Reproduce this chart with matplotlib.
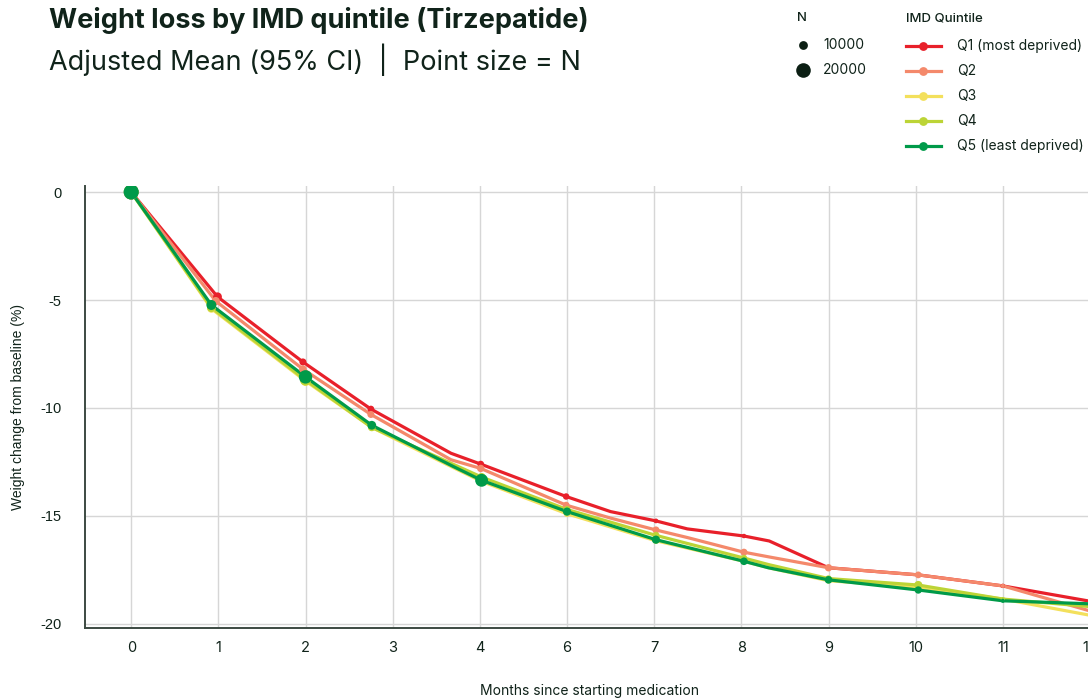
import numpy as np
import matplotlib
matplotlib.use("Agg")
import matplotlib.pyplot as plt

# x positions are slots on the axis (0..11), labels below
tick_labels = ["0", "1", "2", "3", "4", "6", "7", "8", "9", "10", "11", "12"]

q1_x = [0, 0.99, 1.97, 2.75, 3.67, 4.01, 4.99, 5.5, 6.02, 6.38, 7.03, 7.32, 8.0, 9.03, 10.0, 11.0]
q1_y = [0, -4.85, -7.87, -10.05, -12.1, -12.6, -14.1, -14.8, -15.23, -15.6, -15.93, -16.16, -17.4, -17.73, -18.24, -18.95]
q1_n = [20000, 10000, 7000, 6500, 0, 6500, 6000, 0, 3000, 0, 2500, 0, 2000, 2000, 2500, 0]

q2_x = [0, 0.97, 1.97, 2.75, 3.67, 4.01, 4.99, 5.5, 6.02, 6.38, 7.03, 7.32, 8.0, 9.03, 10.0, 11.0]
q2_y = [0, -5.05, -8.2, -10.3, -12.4, -12.8, -14.5, -15.1, -15.65, -16.0, -16.68, -16.9, -17.4, -17.73, -18.24, -19.4]
q2_n = [20000, 9000, 8000, 7000, 0, 7500, 6500, 0, 7000, 0, 7000, 0, 7500, 6500, 2000, 0]

q3_x = [0, 0.92, 2.0, 2.76, 3.69, 4.02, 5.0, 6.02, 7.03, 7.31, 8.0, 9.03, 10.0, 11.0]
q3_y = [0, -5.4, -8.75, -10.9, -12.75, -13.4, -14.9, -16.15, -17.1, -17.4, -18.0, -18.3, -18.85, -19.6]
q3_n = [20000, 9000, 12000, 7000, 0, 8000, 6000, 6000, 5000, 0, 5000, 6000, 1500, 0]

q4_x = [0, 0.92, 2.0, 2.76, 3.69, 4.02, 5.0, 6.02, 7.03, 7.31, 8.0, 9.03, 10.0, 11.0]
q4_y = [0, -5.35, -8.7, -10.9, -12.6, -13.2, -14.7, -15.9, -16.95, -17.25, -17.9, -18.2, -18.85, -19.2]
q4_n = [20000, 10000, 14000, 8000, 0, 9000, 7000, 7000, 6000, 0, 6000, 9000, 2000, 0]

q5_x = [0, 0.92, 2.0, 2.76, 3.69, 4.02, 5.0, 6.02, 7.03, 7.31, 8.0, 9.03, 10.0, 11.0]
q5_y = [0, -5.23, -8.56, -10.8, -12.7, -13.35, -14.8, -16.1, -17.1, -17.4, -17.96, -18.43, -18.93, -19.07]
q5_n = [21000, 12000, 18000, 10000, 0, 17000, 9000, 9000, 8000, 0, 8000, 7500, 2000, 0]

names = ["Q1 (most deprived)", "Q2", "Q3", "Q4", "Q5 (least deprived)"]
colors = ["#e8202a", "#f4896b", "#f3e05c", "#bcd436", "#009a49"]
series = [(q1_x, q1_y, q1_n), (q2_x, q2_y, q2_n), (q3_x, q3_y, q3_n),
          (q4_x, q4_y, q4_n), (q5_x, q5_y, q5_n)]

legend_n = [10000, 20000]

ink = "#10231a"
plt.rcParams['font.family'] = ['Inter', 'DejaVu Sans']


def msize(n):
    # diameter in px grows with N, returned as scatter area in pt^2
    n = np.asarray(n, dtype=float)
    d = (3.0 + 5.8e-4 * n) * 0.72
    return np.where(n > 0, d ** 2, 0)


fig = plt.figure(figsize=(10.88, 7.0), dpi=100)
ax = fig.add_axes([85 / 1088, 72 / 700, (1090 - 85) / 1088, 442 / 700])

for (x, y, n), c in zip(series, colors):
    ax.plot(x, y, color=c, lw=2.3, solid_joinstyle='round', zorder=3)
    ax.scatter(x, y, s=msize(n), color=c, zorder=4, linewidths=0)

ax.set_xlim(-0.53, 11.0)
ax.set_ylim(-20.19, 0.28)
ax.set_xticks(range(len(tick_labels)))
ax.set_xticklabels(tick_labels)
ax.set_yticks([0, -5, -10, -15, -20])
ax.set_yticklabels(["0", "-5", "-10", "-15", "-20"], family=['Liberation Sans'])
ax.grid(True, color="#d6d6d6", lw=1.0, zorder=0)
ax.tick_params(length=0, labelsize=10.5, colors=ink)
ax.tick_params(axis='x', pad=9)
ax.tick_params(axis='y', pad=17)
for s in ["top", "right"]:
    ax.spines[s].set_visible(False)
for s in ["left", "bottom"]:
    ax.spines[s].set_color("#3c4a42")
    ax.spines[s].set_linewidth(1.4)

ax.set_xlabel("Months since starting medication", fontsize=10, color=ink, va='center')
ax.xaxis.set_label_coords((590 - 85) / 1005, -(691 - 628) / 442)
ax.set_ylabel("Weight change from baseline (%)", fontsize=10, color=ink,
              family=['Liberation Sans'], va='center')
ax.yaxis.set_label_coords(-(85 - 18) / 1005, 0.5)

fig.text(49 / 1088, 1 - 20 / 700, "Weight loss by IMD quintile (Tirzepatide)",
         fontsize=19.5, fontweight='bold', color=ink, va='center')
fig.text(49 / 1088, 1 - 60 / 700, "Adjusted Mean (95% CI)  |  Point size = N",
         fontsize=19.5, fontweight='normal', color=ink, va='center')

# legends drawn in a pixel-space overlay
lg = fig.add_axes([0, 0, 1, 1], facecolor='none')
lg.set_xlim(0, 1088)
lg.set_ylim(700, 0)
lg.axis('off')

lg.text(797, 18, "N", fontsize=9.5, fontweight='medium', color=ink, va='center')
for i, n in enumerate(legend_n):
    yy = 45 + 25 * i
    lg.scatter([803], [yy], s=msize([n]), color="#0c1f14", linewidths=0)
    lg.text(823, yy, str(n), fontsize=10, color=ink, va='center')

lg.text(906, 18, "IMD Quintile", fontsize=9.5, fontweight='medium', color=ink, va='center')
for i, (nm, c) in enumerate(zip(names, colors)):
    yy = 46 + 25 * i
    lg.plot([906, 941], [yy, yy], color=c, lw=2.3)
    lg.scatter([923], [yy], s=msize([10000]), color=c, linewidths=0, zorder=3)
    lg.text(957, yy, nm, fontsize=10, color=ink, va='center')

fig.savefig("out.png", dpi=100)
